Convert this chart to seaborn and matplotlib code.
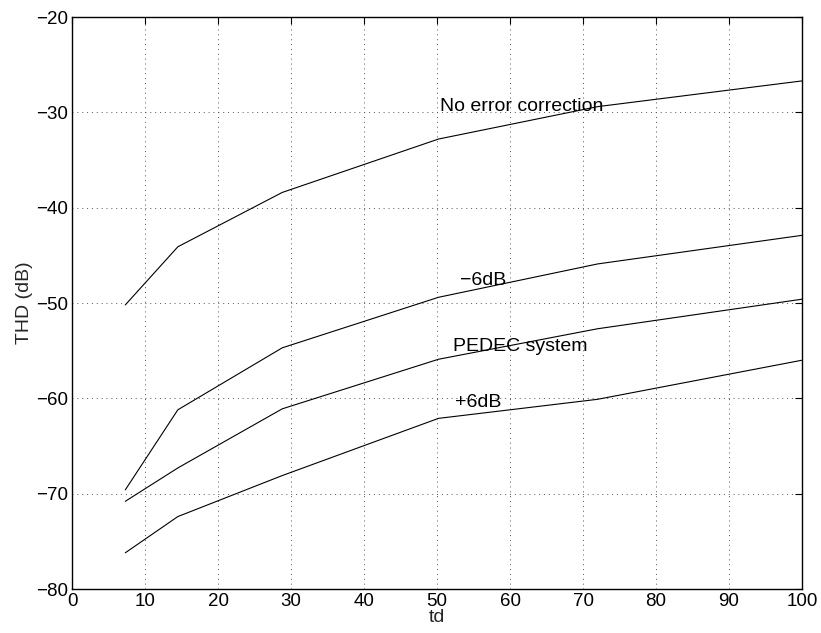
import matplotlib
matplotlib.use("Agg")
import matplotlib.pyplot as plt
import seaborn as sns
import pandas as pd

td = [7.3, 14.5, 28.8, 50.2, 72.0, 100.0]
no_corr = [-50.2, -44.1, -38.4, -32.8, -29.4, -26.7]
minus6 = [-69.6, -61.2, -54.7, -49.4, -45.9, -42.9]
pedec = [-70.8, -67.3, -61.1, -55.9, -52.7, -49.6]
plus6 = [-76.2, -72.4, -68.1, -62.1, -60.1, -56.0]
series_names = ["No error correction", "\u22126dB", "PEDEC system", "+6dB"]
label_pos = [(50.4, -29.4), (53.1, -47.6), (52.2, -54.6), (52.4, -60.4)]
xticks = list(range(0, 101, 10))
yticks = list(range(-80, -19, 10))

sns.set_theme(style="white")
plt.rcParams['font.family'] = ['Liberation Sans', 'DejaVu Sans']

rows = []
for name, vals in zip(series_names, [no_corr, minus6, pedec, plus6]):
    for x, y in zip(td, vals):
        rows.append({"td": x, "THD": y, "series": name})
df = pd.DataFrame(rows)

fig = plt.figure(figsize=(8.21, 6.33), dpi=100)
ax = fig.add_axes([0.0877, 0.0695, 0.9769 - 0.0877, 0.9731 - 0.0695])
sns.lineplot(data=df, x="td", y="THD", hue="series", units="series", estimator=None,
             palette=["black"] * 4, legend=False, linewidth=0.8, ax=ax, sort=False)

for name, (x, y) in zip(series_names, label_pos):
    ax.text(x, y, name, fontsize=14, ha="left", va="center", color="black")

ax.set_xlim(0, 100)
ax.set_ylim(-80, -20)
ax.set_xticks(xticks)
ax.set_yticks(yticks)
ax.set_xticklabels([str(t) for t in xticks])
ax.set_yticklabels([str(t).replace("-", "\u2212") for t in yticks])
ax.grid(True, linestyle=(0, (1, 4)), color="#555555", linewidth=0.7)
ax.tick_params(direction="in", length=5, width=0.8, top=True, right=True,
               labelsize=13.5, colors="black", pad=3)
for s in ax.spines.values():
    s.set_color("black")
    s.set_linewidth(1.0)
    s.set_visible(True)
ax.set_xlabel("td", fontsize=14, labelpad=-1)
ax.set_ylabel("THD (dB)", fontsize=14, labelpad=2)

fig.savefig("out.png", dpi=100)
